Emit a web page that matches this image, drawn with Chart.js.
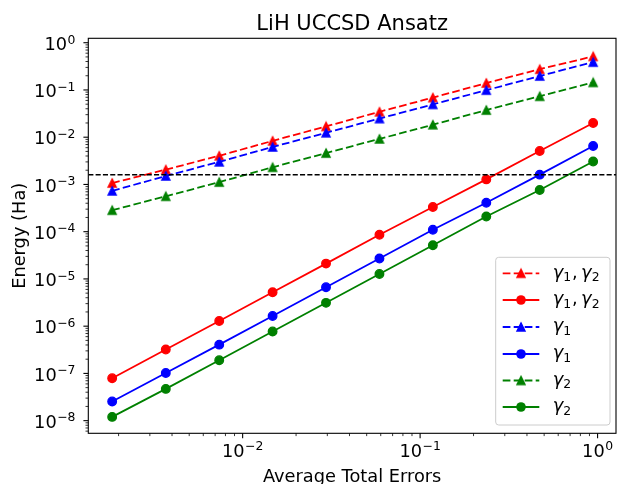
<!DOCTYPE html>
<html>
<head>
<meta charset="utf-8">
<script src="https://cdn.jsdelivr.net/npm/chart.js@4.4.0/dist/chart.umd.min.js"></script>
<style>
  html, body { margin: 0; padding: 0; background: #fff; }
  #wrap { width: 622px; height: 484px; position: relative; }
</style>
</head>
<body>
<div id="wrap"><canvas id="chart"></canvas></div>
<script>
// x values (average total errors), each step halves
const avgErrors = [0.00184, 0.00369, 0.00738, 0.01475, 0.0295, 0.059, 0.118, 0.236, 0.472, 0.944];

// dashed / triangle series
const g12Tri = [1.07e-3, 2.06e-3, 4.04e-3, 8.36e-3, 0.0169, 0.0345, 0.0689, 0.140, 0.275, 0.513];
const g1Tri  = [7.3e-4, 1.51e-3, 3.01e-3, 6.21e-3, 0.0124, 0.0248, 0.0494, 0.0989, 0.197, 0.388];
const g2Tri  = [2.85e-4, 5.61e-4, 1.12e-3, 2.31e-3, 4.61e-3, 9.2e-3, 0.0184, 0.0375, 0.0735, 0.1445];

// solid / circle series
const g12Circ = [7.9e-8, 3.2e-7, 1.29e-6, 5.21e-6, 2.11e-5, 8.59e-5, 3.33e-4, 1.28e-3, 5.10e-3, 0.0200];
const g1Circ  = [2.55e-8, 1.02e-7, 4.06e-7, 1.64e-6, 6.68e-6, 2.70e-5, 1.10e-4, 4.1e-4, 1.61e-3, 6.51e-3];
const g2Circ  = [1.2e-8, 4.7e-8, 1.9e-7, 7.73e-7, 3.12e-6, 1.27e-5, 5.15e-5, 2.09e-4, 7.6e-4, 3.05e-3];

// chemical accuracy line
const chemAccuracy = 1.6e-3;

// legend entries: subscripts of gamma
const legendSubs = [['1', '2'], ['1', '2'], ['1'], ['1'], ['2'], ['2']];

// axis limits and tick exponents (labels are 10^e)
const xMin = 0.00135, xMax = 1.27;
const yMin = 5.4e-9, yMax = 1.24;
const xTickExps = [-2, -1, 0];
const yTickExps = [-8, -7, -6, -5, -4, -3, -2, -1, 0];

const FONT = "'DejaVu Sans', 'Noto Sans', sans-serif";
const LABEL_SIZE = 17.8;
const EXP_SIZE = 12.4;

// matplotlib style triangle marker
function makeTriangle(color) {
    const c = document.createElement('canvas');
    c.width = 12; c.height = 12;
    const g = c.getContext('2d');
    g.fillStyle = color;
    g.strokeStyle = color;
    g.lineWidth = 1.3;
    g.beginPath();
    g.moveTo(6, 1.9);
    g.lineTo(10.1, 10.1);
    g.lineTo(1.9, 10.1);
    g.closePath();
    g.fill();
    g.stroke();
    return c;
}

const markers = {
    red: makeTriangle('#ff0000'),
    blue: makeTriangle('#0000ff'),
    green: makeTriangle('#008000')
};

function series(values, color, dashed, name) {
    return {
        data: avgErrors.map((x, i) => ({ x: x, y: values[i] })),
        showLine: true,
        borderColor: color,
        backgroundColor: color,
        borderWidth: 1.8,
        borderDash: dashed ? [7.7, 3.3] : [],
        pointStyle: dashed ? markers[name] : 'circle',
        pointRadius: dashed ? 6 : 4.3,
        pointBorderWidth: dashed ? 0 : 1.3,
        pointBorderColor: color,
        pointBackgroundColor: color
    };
}

const datasets = [
    series(g12Tri, '#ff0000', true, 'red'),
    series(g12Circ, '#ff0000', false, 'red'),
    series(g1Tri, '#0000ff', true, 'blue'),
    series(g1Circ, '#0000ff', false, 'blue'),
    series(g2Tri, '#008000', true, 'green'),
    series(g2Circ, '#008000', false, 'green'),
    {
        data: [{ x: xMin, y: chemAccuracy }, { x: xMax, y: chemAccuracy }],
        showLine: true,
        borderColor: '#000',
        borderWidth: 1.4,
        borderDash: [5.1, 2.2],
        pointRadius: 0
    }
];
// later datasets on top, like matplotlib
datasets.forEach((d, i) => d.order = datasets.length - i);

// "10" with a raised exponent; align: 'center' or 'right'
function drawPower(ctx, e, x, baseline, align) {
    const expText = (e < 0 ? '\u2212' : '') + Math.abs(e);
    ctx.font = LABEL_SIZE + 'px ' + FONT;
    const wBase = ctx.measureText('10').width;
    ctx.font = EXP_SIZE + 'px ' + FONT;
    const wExp = ctx.measureText(expText).width;
    const total = wBase + wExp + 0.5;
    const x0 = align === 'center' ? x - total / 2 : x - total;
    ctx.textAlign = 'left';
    ctx.textBaseline = 'alphabetic';
    ctx.font = LABEL_SIZE + 'px ' + FONT;
    ctx.fillText('10', x0, baseline);
    ctx.font = EXP_SIZE + 'px ' + FONT;
    ctx.fillText(expText, x0 + wBase + 0.5, baseline - 6.5);
}

// draws spines, ticks, tick labels, title, axis titles and legend
const decorations = {
    id: 'decorations',
    afterDatasetsDraw(chart) {
        const ctx = chart.ctx;
        const a = chart.chartArea;
        const xs = chart.scales.x, ys = chart.scales.y;
        ctx.save();
        ctx.strokeStyle = '#000';
        ctx.setLineDash([]);

        // tick marks, majors at powers of ten
        function ticks(scale, horizontal) {
            const lo = Math.floor(Math.log10(scale.min));
            const hi = Math.ceil(Math.log10(scale.max));
            for (let e = lo; e <= hi; e++) {
                for (let k = 1; k <= 9; k++) {
                    const v = k * Math.pow(10, e);
                    if (v < scale.min || v > scale.max) continue;
                    const p = scale.getPixelForValue(v);
                    const len = k === 1 ? 4.9 : 2.8;
                    ctx.lineWidth = k === 1 ? 1.1 : 0.8;
                    ctx.beginPath();
                    if (horizontal) {
                        ctx.moveTo(p, a.bottom);
                        ctx.lineTo(p, a.bottom + len);
                    } else {
                        ctx.moveTo(a.left, p);
                        ctx.lineTo(a.left - len, p);
                    }
                    ctx.stroke();
                }
            }
        }
        ticks(xs, true);
        ticks(ys, false);

        // spines
        ctx.lineWidth = 1.1;
        ctx.strokeRect(a.left, a.top, a.right - a.left, a.bottom - a.top);

        // tick labels
        ctx.fillStyle = '#000';
        xTickExps.forEach(e => {
            drawPower(ctx, e, xs.getPixelForValue(Math.pow(10, e)), a.bottom + 23.4, 'center');
        });
        yTickExps.forEach(e => {
            drawPower(ctx, e, a.left - 12.8, ys.getPixelForValue(Math.pow(10, e)) + 7.3, 'right');
        });
        ctx.restore();
    },
    afterDraw(chart) {
        const ctx = chart.ctx;
        const a = chart.chartArea;
        ctx.save();
        ctx.fillStyle = '#000';

        // title
        ctx.font = '21px ' + FONT;
        ctx.textAlign = 'center';
        ctx.textBaseline = 'alphabetic';
        ctx.fillText('LiH UCCSD Ansatz', (a.left + a.right) / 2, 30);

        // axis titles
        ctx.font = LABEL_SIZE + 'px ' + FONT;
        ctx.fillText('Average Total Errors', (a.left + a.right) / 2, 481.6);
        ctx.translate(25, (a.top + a.bottom) / 2);
        ctx.rotate(-Math.PI / 2);
        ctx.fillText('Energy (Ha)', 0, 0);
        ctx.restore();

        // legend
        ctx.save();
        const bx = 495.7, by = 257.3, bw = 114.3, bh = 167.7, r = 3;
        ctx.beginPath();
        ctx.moveTo(bx + r, by);
        ctx.arcTo(bx + bw, by, bx + bw, by + bh, r);
        ctx.arcTo(bx + bw, by + bh, bx, by + bh, r);
        ctx.arcTo(bx, by + bh, bx, by, r);
        ctx.arcTo(bx, by, bx + bw, by, r);
        ctx.closePath();
        ctx.fillStyle = 'rgba(255,255,255,0.8)';
        ctx.fill();
        ctx.strokeStyle = '#cccccc';
        ctx.lineWidth = 1;
        ctx.stroke();

        const rowY = [273.3, 300, 327, 354, 380.5, 407];
        datasets.slice(0, 6).forEach((d, i) => {
            const y = rowY[i];
            ctx.strokeStyle = d.borderColor;
            ctx.lineWidth = d.borderWidth;
            ctx.setLineDash(d.borderDash);
            ctx.beginPath();
            ctx.moveTo(502.7, y);
            ctx.lineTo(539.3, y);
            ctx.stroke();
            ctx.setLineDash([]);
            if (d.pointStyle === 'circle') {
                ctx.fillStyle = d.borderColor;
                ctx.beginPath();
                ctx.arc(521, y, 4.8, 0, Math.PI * 2);
                ctx.fill();
            } else {
                ctx.drawImage(d.pointStyle, 521 - 6, y - 6);
            }
            // gamma_k labels, mathtext-like
            ctx.fillStyle = '#000';
            ctx.textAlign = 'left';
            ctx.textBaseline = 'alphabetic';
            let x = 552.7;
            const base = y + 4.4;
            legendSubs[i].forEach((s, j) => {
                if (j > 0) {
                    ctx.font = LABEL_SIZE + 'px ' + FONT;
                    ctx.fillText(',', x + 1, base);
                    x += 10;
                }
                ctx.font = 'italic ' + LABEL_SIZE + 'px ' + FONT;
                ctx.fillText('\u03b3', x, base);
                x += ctx.measureText('\u03b3').width;
                ctx.font = EXP_SIZE + 'px ' + FONT;
                ctx.fillText(s, x, base + 3.2);
                x += ctx.measureText(s).width;
            });
        });
        ctx.restore();
    }
};

new Chart(document.getElementById('chart'), {
    type: 'scatter',
    data: { datasets: datasets },
    options: {
        responsive: true,
        maintainAspectRatio: false,
        animation: false,
        layout: { padding: { top: 38.3, right: 3.5, left: 0, bottom: 0 } },
        plugins: {
            legend: { display: false },
            tooltip: { enabled: false },
            title: { display: false }
        },
        scales: {
            x: {
                type: 'logarithmic',
                min: xMin,
                max: xMax,
                grid: { display: false, drawTicks: false },
                border: { display: false },
                ticks: { display: false },
                afterFit: s => { s.height = 50.7; }
            },
            y: {
                type: 'logarithmic',
                min: yMin,
                max: yMax,
                grid: { display: false, drawTicks: false },
                border: { display: false },
                ticks: { display: false },
                afterFit: s => { s.width = 88.3; }
            }
        }
    },
    plugins: [decorations]
});
</script>
</body>
</html>
